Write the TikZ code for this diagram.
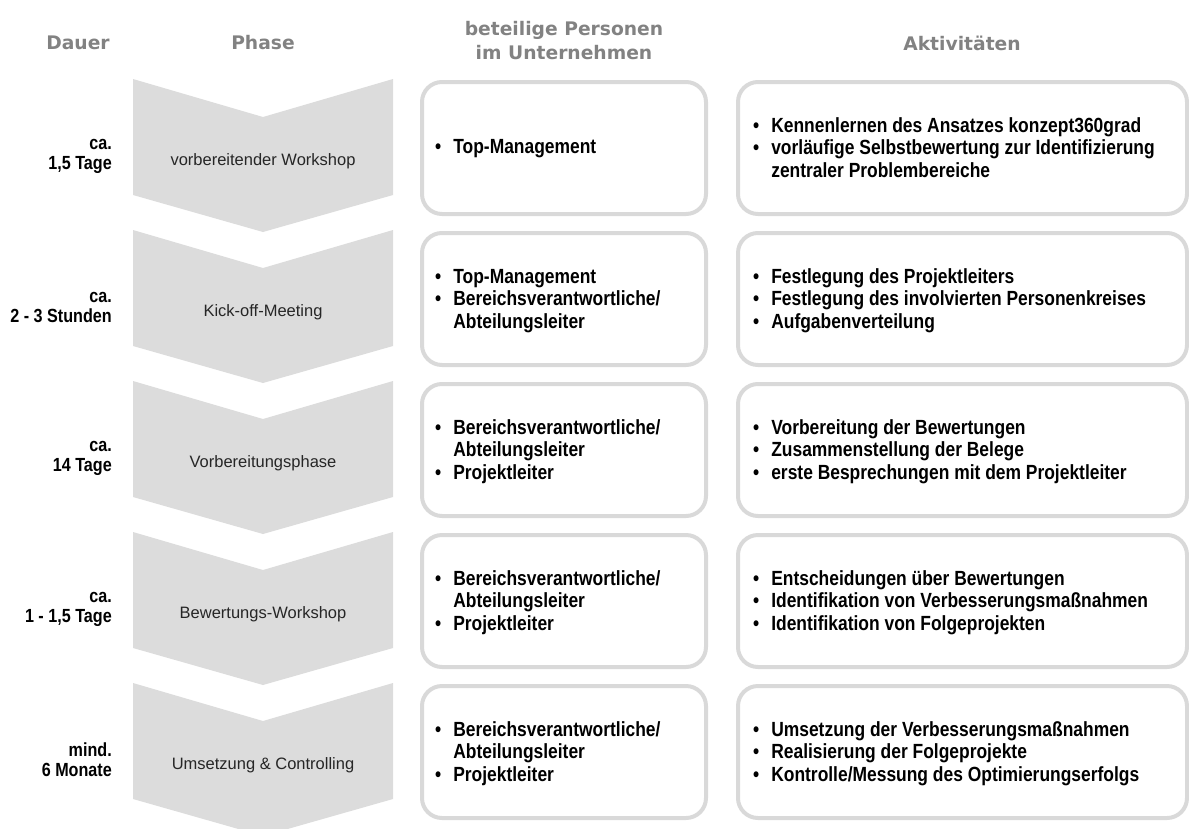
\documentclass[tikz,border=0pt]{standalone}
\usepackage{fontspec}
\setmainfont{Liberation Sans}
\newfontfamily\hdfont{DejaVu Sans}
\newfontfamily\nfont[FakeStretch=0.85]{Liberation Sans}
\definecolor{chev}{HTML}{DCDCDC}
\definecolor{bord}{HTML}{D9D9D9}
\definecolor{headc}{HTML}{828282}
\newcommand{\chevshape}[1]{%
  \fill[chev] (133,#1) -- (263,#1+38) -- (393,#1) -- (393,#1+116) -- (263,#1+153) -- (133,#1+116) -- cycle;}
\newcommand{\blist}[1]{\begin{tabular}{@{}l@{\hspace{12pt}}l@{}}#1\end{tabular}}
\begin{document}
\begin{tikzpicture}[x=1pt,y=-1pt,
  headtxt/.style={font=\hdfont\bfseries\fontsize{18.7}{24}\selectfont, text=headc, align=center, inner sep=0pt},
  phase/.style={font=\fontsize{16.5}{20}\selectfont, text=black!85, inner sep=0pt},
  dur/.style={font=\nfont\bfseries\fontsize{19}{20}\selectfont, align=right, anchor=east, inner sep=0pt},
  midcard/.style={draw=bord, line width=4pt, rounded corners=20pt, minimum width=284pt, minimum height=132pt, inner sep=0pt},
  rcard/.style={draw=bord, line width=4pt, rounded corners=20pt, minimum width=449pt, minimum height=132pt, inner sep=0pt},
  items/.style={font=\nfont\bfseries\fontsize{20.5}{22.5}\selectfont, anchor=west, inner sep=0pt, align=left}
]
\useasboundingbox (0,0) rectangle (1189,828);
% headers
\node[headtxt] (hd) at (78,43) {Dauer};
\node[headtxt] (hp) at (263,43) {Phase};
\node[headtxt] (hb) at (564,41) {beteilige Personen\\im Unternehmen};
\node[headtxt] (ha) at (962,43) {Aktivitäten};
% chevrons
\chevshape{79}
\chevshape{230}
\chevshape{381}
\chevshape{532}
\chevshape{683}
% phase labels
\node[phase] (ph1) at (263,161) {vorbereitender Workshop};
\node[phase] (ph2) at (263,312) {Kick-off-Meeting};
\node[phase] (ph3) at (263,463) {Vorbereitungsphase};
\node[phase] (ph4) at (263,614) {Bewertungs-Workshop};
\node[phase] (ph5) at (263,765) {Umsetzung \& Controlling};
% durations
\node[dur] (d1) at (112,156) {ca.\\1,5 Tage};
\node[dur] (d2) at (112,307) {ca.\\2 - 3 Stunden};
\node[dur] (d3) at (112,458) {ca.\\14 Tage};
\node[dur] (d4) at (112,609) {ca.\\1 - 1,5 Tage};
\node[dur] (d5) at (112,760) {mind.\\6 Monate};
% cards
\node[midcard] (m1) at (564,148) {};
\node[midcard] (m2) at (564,299) {};
\node[midcard] (m3) at (564,450) {};
\node[midcard] (m4) at (564,601) {};
\node[midcard] (m5) at (564,752) {};
\node[rcard] (r1) at (962.5,148) {};
\node[rcard] (r2) at (962.5,299) {};
\node[rcard] (r3) at (962.5,450) {};
\node[rcard] (r4) at (962.5,601) {};
\node[rcard] (r5) at (962.5,752) {};
% card texts
\node[items] (m1t) at ([xshift=15pt,yshift=-1pt]m1.west) {\blist{• & Top-Management}};
\node[items] (m2t) at ([xshift=15pt,yshift=-2pt]m2.west) {\blist{• & Top-Management\\ • & Bereichsverantwortliche/\\ & Abteilungsleiter}};
\node[items] (m3t) at ([xshift=15pt,yshift=-2pt]m3.west) {\blist{• & Bereichsverantwortliche/\\ & Abteilungsleiter\\ • & Projektleiter}};
\node[items] (m4t) at ([xshift=15pt,yshift=-2pt]m4.west) {\blist{• & Bereichsverantwortliche/\\ & Abteilungsleiter\\ • & Projektleiter}};
\node[items] (m5t) at ([xshift=15pt,yshift=-2pt]m5.west) {\blist{• & Bereichsverantwortliche/\\ & Abteilungsleiter\\ • & Projektleiter}};
\node[items] (r1t) at ([xshift=17pt,yshift=-2pt]r1.west) {\blist{• & Kennenlernen des Ansatzes konzept360grad\\ • & vorläufige Selbstbewertung zur Identifizierung\\ & zentraler Problembereiche}};
\node[items] (r2t) at ([xshift=17pt,yshift=-2pt]r2.west) {\blist{• & Festlegung des Projektleiters\\ • & Festlegung des involvierten Personenkreises\\ • & Aufgabenverteilung}};
\node[items] (r3t) at ([xshift=17pt,yshift=-2pt]r3.west) {\blist{• & Vorbereitung der Bewertungen\\ • & Zusammenstellung der Belege\\ • & erste Besprechungen mit dem Projektleiter}};
\node[items] (r4t) at ([xshift=17pt,yshift=-2pt]r4.west) {\blist{• & Entscheidungen über Bewertungen\\ • & Identifikation von Verbesserungsmaßnahmen\\ • & Identifikation von Folgeprojekten}};
\node[items] (r5t) at ([xshift=17pt,yshift=-2pt]r5.west) {\blist{• & Umsetzung der Verbesserungsmaßnahmen\\ • & Realisierung der Folgeprojekte\\ • & Kontrolle/Messung des Optimierungserfolgs}};
\end{tikzpicture}
\end{document}
